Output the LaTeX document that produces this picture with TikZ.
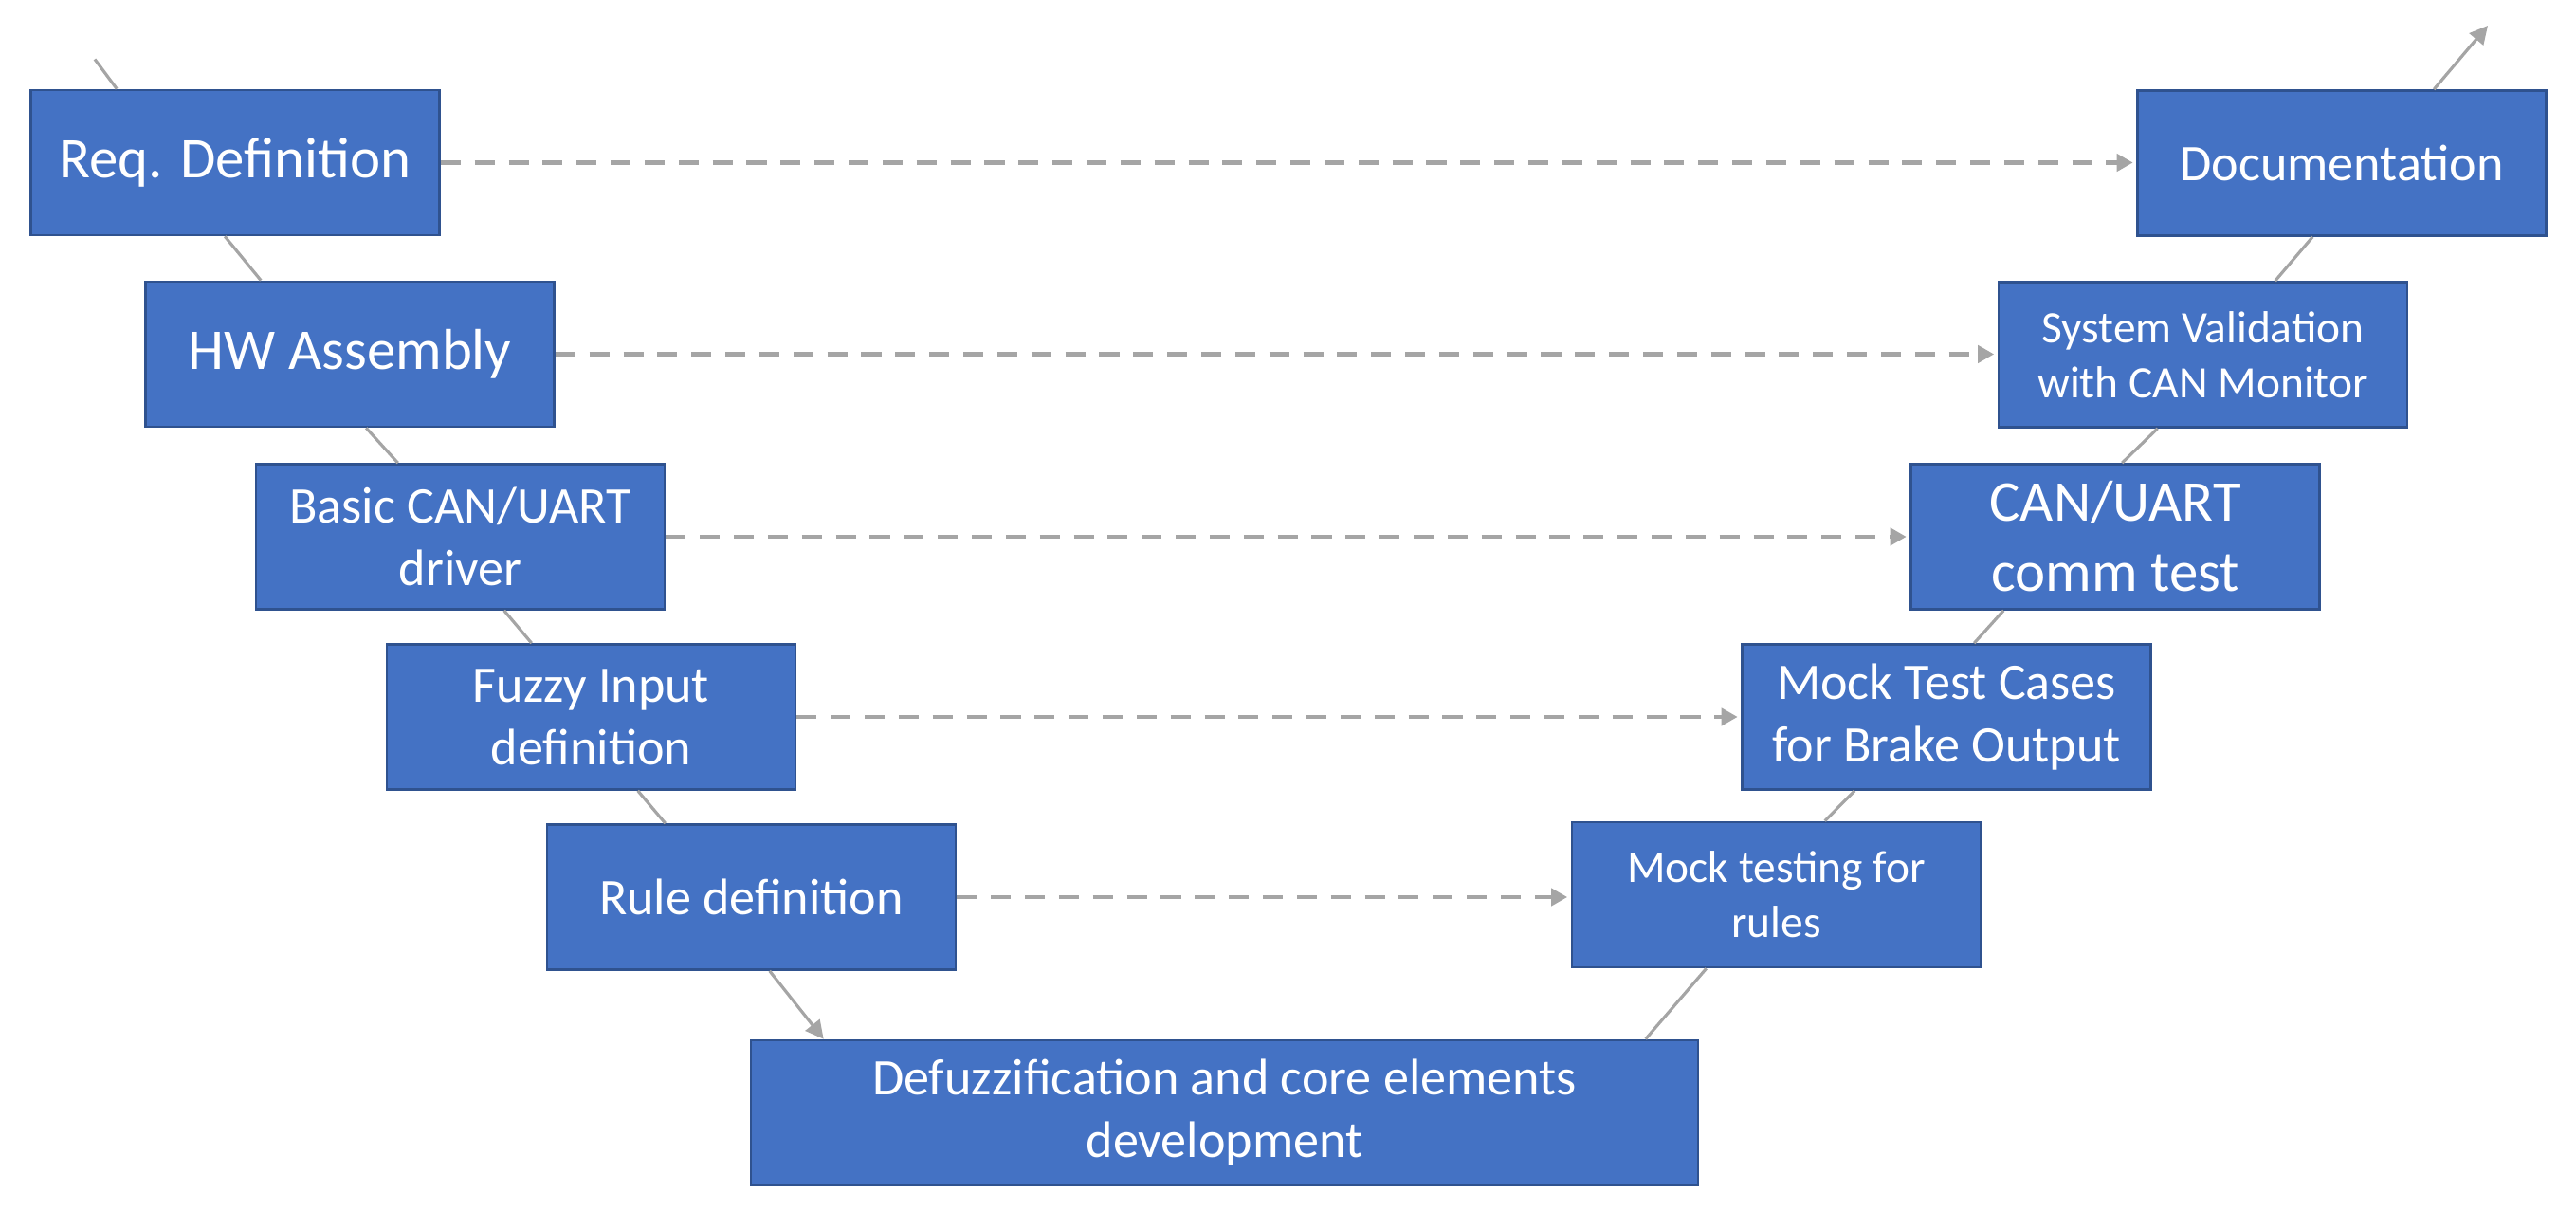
\documentclass[tikz,border=0pt]{standalone}
\usepackage{fontspec}
\setmainfont{Carlito}
\usetikzlibrary{arrows.meta}
\definecolor{vblue}{HTML}{4472C4}
\definecolor{vedge}{HTML}{2F528F}
\definecolor{vgray}{HTML}{A5A5A5}
\tikzset{
  stage/.style={draw=vedge, line width=0.75pt, fill=vblue, text=white, align=center,
    minimum width=4.31cm, minimum height=1.53cm, inner sep=0pt},
  big/.style={font=\fontsize{17.3}{21.1}\selectfont},
  mid/.style={font=\fontsize{15.4}{18.8}\selectfont},
  small/.style={font=\fontsize{13.5}{16.5}\selectfont},
  vline/.style={draw=vgray, line width=0.9pt},
  vtip/.style={vline, -{Triangle[length=0.19cm,width=0.19cm]}},
  link/.style={draw=vgray, line width=1.2pt, dash pattern=on 6pt off 4.2pt,
    -{Triangle[length=0.17cm,width=0.18cm]}, shorten >=1pt}
}
\begin{document}
\begin{tikzpicture}
\useasboundingbox (0,0) rectangle (27.17,12.77);
\node[stage,big] (req) at (2.48,11.055) {Req. Definition};
\node[stage,big] (hw) at (3.69,9.035) {HW Assembly};
\node[stage,mid] (drv) at (4.855,7.11) {Basic CAN/UART\\driver};
\node[stage,mid] (fin) at (6.235,5.21) {Fuzzy Input\\definition};
\node[stage,mid] (rdef) at (7.925,3.31) {Rule definition};
\node[stage,mid,minimum width=9.99cm] (core) at (12.915,1.035) {Defuzzification and core elements\\development};
\node[stage,mid] (doc) at (24.70,11.05) {Documentation};
\node[stage,small] (sval) at (23.235,9.03) {System Validation\\with CAN Monitor};
\node[stage,big] (comm) at (22.31,7.11) {CAN/UART\\comm test};
\node[stage,mid] (mtc) at (20.53,5.21) {Mock Test Cases\\for Brake Output};
\node[stage,small] (mrul) at (18.735,3.335) {Mock testing for\\rules};
\coordinate (vin) at (1.00,12.145);
\coordinate (vout) at (26.24,12.50);
% left leg of the V
\draw[vline] (vin) -- ([xshift=0.92cm]req.north west);
\foreach \a/\xa/\b/\xb in {req/2.06/hw/1.23, hw/2.34/drv/1.51, drv/2.63/fin/1.54, fin/2.66/rdef/1.26}
  {\draw[vline] ([xshift=\xa cm]\a.south west) -- ([xshift=\xb cm]\b.north west);}
\draw[vtip] ([xshift=2.36cm]rdef.south west) -- ([xshift=0.78cm]core.north west);
% right leg of the V
\draw[vline] ([xshift=1.43cm]mrul.south west) -- ([xshift=9.45cm]core.north west);
\foreach \a/\xa/\b/\xb in {mtc/1.20/mrul/2.68, comm/0.99/mtc/2.46, sval/1.69/comm/2.24, doc/1.86/sval/2.93}
  {\draw[vline] ([xshift=\xa cm]\a.south west) -- ([xshift=\xb cm]\b.north west);}
\draw[vtip] ([xshift=3.14cm]doc.north west) -- (vout);
\foreach \a/\b in {req/doc, hw/sval, drv/comm, fin/mtc, rdef/mrul}
  {\draw[link] (\a.east) -- (\a.east -| \b.west);}
\end{tikzpicture}
\end{document}
